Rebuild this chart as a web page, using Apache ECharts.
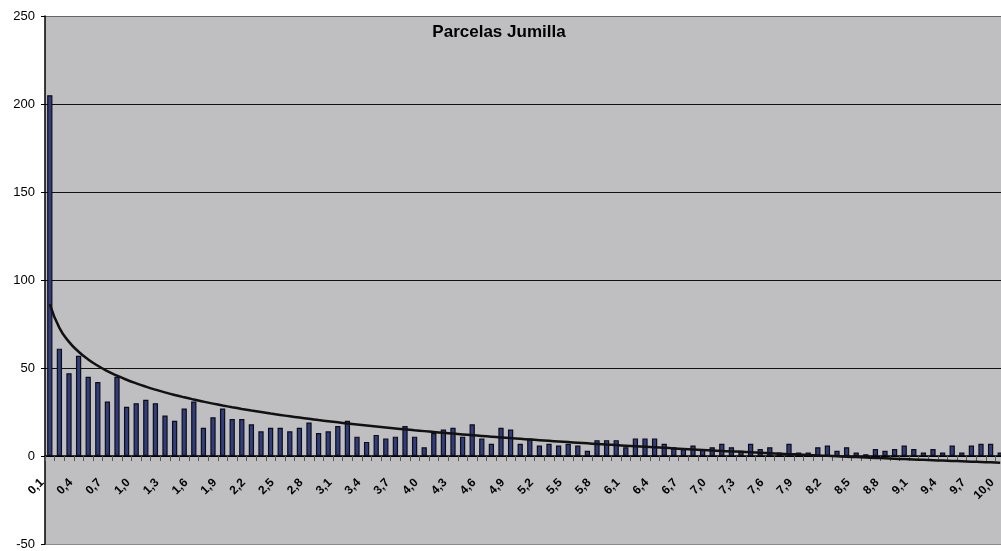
<!DOCTYPE html>
<html>
<head>
<meta charset="utf-8">
<title>Parcelas Jumilla</title>
<script src="https://cdn.jsdelivr.net/npm/echarts@6/dist/echarts.min.js"></script>
<style>
    html, body { margin: 0; padding: 0; background: #fff; }
    #chart { width: 1001px; height: 551px; }
</style>
</head>
<body>
<div id="chart"></div>
<script>
// categories: parcel size classes 0,1 .. 10,0 (Spanish decimal comma)
const categories = [
    "0,1", "0,2", "0,3", "0,4", "0,5", "0,6", "0,7", "0,8", "0,9", "1,0",
    "1,1", "1,2", "1,3", "1,4", "1,5", "1,6", "1,7", "1,8", "1,9", "2,0",
    "2,1", "2,2", "2,3", "2,4", "2,5", "2,6", "2,7", "2,8", "2,9", "3,0",
    "3,1", "3,2", "3,3", "3,4", "3,5", "3,6", "3,7", "3,8", "3,9", "4,0",
    "4,1", "4,2", "4,3", "4,4", "4,5", "4,6", "4,7", "4,8", "4,9", "5,0",
    "5,1", "5,2", "5,3", "5,4", "5,5", "5,6", "5,7", "5,8", "5,9", "6,0",
    "6,1", "6,2", "6,3", "6,4", "6,5", "6,6", "6,7", "6,8", "6,9", "7,0",
    "7,1", "7,2", "7,3", "7,4", "7,5", "7,6", "7,7", "7,8", "7,9", "8,0",
    "8,1", "8,2", "8,3", "8,4", "8,5", "8,6", "8,7", "8,8", "8,9", "9,0",
    "9,1", "9,2", "9,3", "9,4", "9,5", "9,6", "9,7", "9,8", "9,9", "10,0",
];

// number of parcels per class
const parcels = [
    205, 61, 47, 57, 45, 42, 31, 45, 28, 30,
    32, 30, 23, 20, 27, 31, 16, 22, 27, 21,
    21, 18, 14, 16, 16, 14, 16, 19, 13, 14,
    17, 20, 11, 8, 12, 10, 11, 17, 11, 5,
    13, 15, 16, 11, 18, 10, 7, 16, 15, 7,
    10, 6, 7, 6, 7, 6, 3, 9, 9, 9,
    5, 10, 10, 10, 7, 5, 4, 6, 4, 5,
    7, 5, 3, 7, 4, 5, 2, 7, 2, 2,
    5, 6, 3, 5, 2, 1, 4, 3, 4, 6,
    4, 2, 4, 2, 6, 2, 6, 7, 7, 2,
];

// y axis range
const yMin = -50;
const yMax = 250;
const yStep = 50;

// ---------------- logarithmic trend (least squares on ln(index)) ----------------

function logTrend(vals) {
    const n = vals.length;
    let sx = 0, sy = 0, sxx = 0, sxy = 0;
    vals.forEach((y, i) => {
        const x = Math.log(i + 1);
        sx += x; sy += y; sxx += x * x; sxy += x * y;
    });
    const a = (n * sxy - sx * sy) / (n * sxx - sx * sx);
    const b = (sy - a * sx) / n;
    return vals.map((_, i) => a * Math.log(i + 1) + b);
}

const trend = logTrend(parcels);

// ---------------- chart ----------------

const chart = echarts.init(document.getElementById("chart"), null, { renderer: "canvas" });

const font = "Liberation Sans, Arial, sans-serif";

chart.setOption({
    animation: false,
    backgroundColor: "#ffffff",
    title: {
        text: "Parcelas Jumilla",
        left: 494,
        top: 19,
        textAlign: "center",
        textStyle: { fontFamily: font, fontSize: 17, fontWeight: "bold", color: "#000" },
    },
    grid: {
        left: 45,
        right: -4,
        top: 16,
        bottom: 7,
        outerBoundsMode: "none",
        containLabel: false,
        show: true,
        backgroundColor: "#bfbfc1",
        borderWidth: 0,
    },
    xAxis: {
        type: "category",
        data: categories,
        boundaryGap: true,
        position: "bottom",
        offset: 0,
        axisLine: { onZero: false, lineStyle: { color: "#000", width: 1.5 } },
        axisTick: { show: true, interval: 0, length: 5, lineStyle: { color: "#555", width: 1 } },
        axisLabel: {
            interval: 2,
            rotate: 45,
            margin: 17,
            padding: [0, 11, 0, 0],
            fontFamily: font,
            fontSize: 12,
            fontWeight: "bold",
            color: "#000",
        },
        splitLine: { show: false },
    },
    yAxis: {
        type: "value",
        min: yMin,
        max: yMax,
        interval: yStep,
        axisLine: { show: true, lineStyle: { color: "#000", width: 1.5 } },
        axisTick: { show: true, length: 4, lineStyle: { color: "#000" } },
        axisLabel: { margin: 10, fontFamily: font, fontSize: 13, color: "#000" },
        splitLine: {
            show: true,
            lineStyle: {
                // -50, 0, 50, 100, 150, 200, 250
                color: ["#8a8a8a", "#000", "#111", "#111", "#111", "#111", "#666"],
                width: 1.2,
            },
        },
    },
    series: [
        {
            name: "Parcelas",
            type: "bar",
            data: parcels,
            barWidth: "55%",
            itemStyle: { color: "#323d7c", borderColor: "#0d0d1a", borderWidth: 1.2 },
        },
        {
            name: "Tendencia",
            type: "line",
            data: trend,
            smooth: true,
            showSymbol: false,
            z: 5,
            lineStyle: { color: "#111", width: 2.5 },
        },
    ],
});

// move the category axis (line, ticks and labels) up to y = 0
const zeroY = chart.convertToPixel({ yAxisIndex: 0 }, 0);
const bottomY = chart.convertToPixel({ yAxisIndex: 0 }, yMin);
chart.setOption({ xAxis: { offset: zeroY - bottomY } });
</script>
</body>
</html>
